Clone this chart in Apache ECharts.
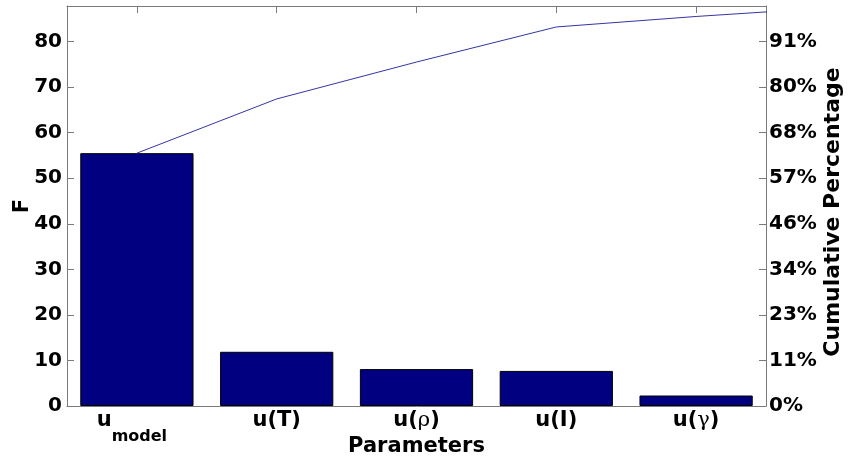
<!DOCTYPE html>
<html>
<head>
<meta charset="utf-8">
<script src="https://cdn.jsdelivr.net/npm/echarts@6/dist/echarts.min.js"></script>
<style>
html,body{margin:0;padding:0;background:#fff;}
#chart{width:850px;height:462px;}
</style>
</head>
<body>
<div id="chart"></div>
<script>
// ---- data ----
const categories = ['u_model', 'u(T)', 'u(ρ)', 'u(I)', 'u(γ)'];
const fValues = [55.5, 11.9, 8.1, 7.7, 2.3];
// next (not displayed) parameter; the cumulative line continues towards it past the axis edge
const hiddenValues = [2.0];
const totalF = 87.8;          // left-axis top = total of all F values
const leftTickLabels = ['0', '10', '20', '30', '40', '50', '60', '70', '80'];
const rightTickLabels = ['0%', '11%', '23%', '34%', '46%', '57%', '68%', '80%', '91%'];

// positions of the categories on the x scale (1..n)
const catPos = categories.map(function (c, i) { return i + 1; });
const barData = fValues.map(function (v, i) { return [catPos[i], v]; });
// cumulative line built from the values
const allValues = fValues.concat(hiddenValues);
const cumData = [];
let run = 0;
allValues.forEach(function (v, i) { run += v; cumData.push([i + 1, run]); });

const axisGray = '#7a7a7a';
const FONT = 'DejaVu Sans';

function catLabel(v) {
  if (v === 'u_model') return '{u|u}{sub|model}';
  const m = v.match(/^u\((.)\)$/);
  if (m && (m[1] === 'ρ' || m[1] === 'γ')) return '{n|u(}{g|' + m[1] + '}{n|)}';
  return '{n|' + v + '}';
}

const chart = echarts.init(document.getElementById('chart'));
chart.setOption({
  animation: false,
  backgroundColor: '#fff',
  textStyle: { fontFamily: FONT },
  grid: { left: 67, right: 84, top: 6, bottom: 56, containLabel: false, outerBoundsMode: 'none' },
  xAxis: [
    {
      type: 'value',
      min: 0.5,
      max: 5.5,
      position: 'bottom',
      name: 'Parameters',
      nameLocation: 'middle',
      nameGap: 30,
      nameMoveOverlap: false,
      nameTextStyle: { fontFamily: FONT, fontWeight: 'bold', fontSize: 21, color: '#000' },
      axisLine: { show: true, onZero: false, lineStyle: { color: axisGray, width: 1 } },
      axisTick: { show: false },
      axisLabel: {
        margin: 4,
        customValues: catPos,
        formatter: function (v) {
          const c = categories[Math.round(v) - 1];
          return c === undefined ? '' : catLabel(c);
        },
        rich: {
          n: { fontFamily: FONT, fontWeight: 'bold', fontSize: 21, color: '#000', lineHeight: 24, verticalAlign: 'top' },
          u: { fontFamily: FONT, fontWeight: 'bold', fontSize: 21, color: '#000', lineHeight: 24, verticalAlign: 'top' },
          g: { fontFamily: 'DejaVu Serif', fontWeight: 'normal', fontSize: 21, color: '#000', lineHeight: 24, verticalAlign: 'top' },
          sub: { fontFamily: FONT, fontWeight: 'bold', fontSize: 16, color: '#000', lineHeight: 18, padding: [19, 10, 0, 0], verticalAlign: 'top' }
        }
      },
      splitLine: { show: false }
    },
    {
      type: 'value',
      min: 0.5,
      max: 5.5,
      position: 'top',
      axisLine: { show: true, onZero: false, lineStyle: { color: axisGray, width: 1 } },
      axisTick: { show: true, inside: true, length: 7, customValues: catPos, lineStyle: { color: axisGray } },
      axisLabel: { show: false },
      splitLine: { show: false }
    }
  ],
  yAxis: [
    {
      type: 'value',
      position: 'left',
      min: 0,
      max: totalF,
      interval: 10,
      name: 'F',
      nameLocation: 'middle',
      nameGap: 34,
      nameMoveOverlap: false,
      nameRotate: 90,
      nameTextStyle: { fontFamily: FONT, fontWeight: 'bold', fontSize: 21, color: '#000' },
      axisLine: { show: true, onZero: false, lineStyle: { color: axisGray, width: 1 } },
      axisTick: { show: true, inside: true, length: 7, lineStyle: { color: axisGray } },
      axisLabel: {
        margin: 5,
        fontFamily: FONT, fontWeight: 'bold', fontSize: 20, color: '#000',
        showMaxLabel: false,
        formatter: function (v) {
          const i = Math.round(v / 10);
          return (Math.abs(v - i * 10) < 1e-6 && leftTickLabels[i] !== undefined) ? leftTickLabels[i] : '';
        }
      },
      splitLine: { show: false }
    },
    {
      type: 'value',
      position: 'right',
      min: 0,
      max: totalF,
      interval: 10,
      name: 'Cumulative Percentage',
      nameLocation: 'middle',
      nameGap: 56,
      nameMoveOverlap: false,
      nameRotate: 90,
      nameTextStyle: { fontFamily: FONT, fontWeight: 'bold', fontSize: 22, color: '#000', padding: [0, 12, 0, 0] },
      axisLine: { show: true, onZero: false, lineStyle: { color: axisGray, width: 1 } },
      axisTick: { show: true, inside: true, length: 7, lineStyle: { color: axisGray } },
      axisLabel: {
        margin: 3,
        fontFamily: FONT, fontWeight: 'bold', fontSize: 20, color: '#000',
        showMaxLabel: false,
        formatter: function (v) {
          const i = Math.round(v / 10);
          return (Math.abs(v - i * 10) < 1e-6 && rightTickLabels[i] !== undefined) ? rightTickLabels[i] : '';
        }
      },
      splitLine: { show: false }
    }
  ],
  series: [
    {
      type: 'bar',
      xAxisIndex: 0,
      yAxisIndex: 0,
      data: barData,
      barWidth: '81%',
      itemStyle: { color: '#000080', borderColor: '#000000', borderWidth: 1 },
      z: 2
    },
    {
      type: 'line',
      xAxisIndex: 0,
      yAxisIndex: 0,
      data: cumData,
      clip: true,
      symbol: 'none',
      lineStyle: { color: '#3535a5', width: 1 },
      z: 3
    }
  ]
});
</script>
</body>
</html>
